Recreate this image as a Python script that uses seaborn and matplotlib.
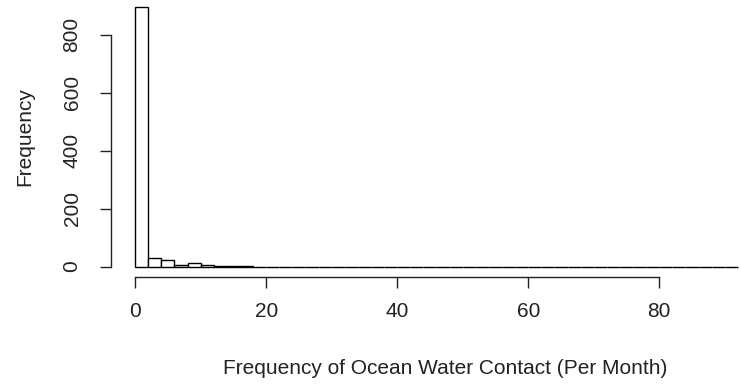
import numpy as np
import pandas as pd
import matplotlib
matplotlib.use("Agg")
import matplotlib.pyplot as plt
import seaborn as sns

# Data (bin width 2, from 0 to 92)
bin_edges = list(range(0, 94, 2))
counts = [894, 28, 22, 7, 13, 7, 3, 3, 3] + [0] * 37
x_ticks = [0, 20, 40, 60, 80]
y_ticks = [0, 200, 400, 600, 800]
x_label = "Frequency of Ocean Water Contact (Per Month)"
y_label = "Frequency"

sns.set_style("white")
plt.rcParams["font.family"] = ["Liberation Sans", "DejaVu Sans"]

W, H = 740, 386
fig = plt.figure(figsize=(W / 100, H / 100), dpi=100)
ax = fig.add_axes([111 / W, (H - 277) / H, 629.5 / W, 280 / H])

mids = [(bin_edges[i] + bin_edges[i + 1]) / 2 for i in range(len(counts))]
df = pd.DataFrame({"x": mids, "w": counts})
sns.histplot(data=df, x="x", weights="w", bins=bin_edges, ax=ax,
             color="white", edgecolor="black", linewidth=1.0, alpha=1.0,
             clip_on=False)

ax.set_xlim(-3.68, 92.4)
ax.set_ylim(-35.8, 929.8)
ax.set_xlabel("")
ax.set_ylabel("")

for s in ["top", "right"]:
    ax.spines[s].set_visible(False)
for s in ["left", "bottom"]:
    ax.spines[s].set_color("#222222")
    ax.spines[s].set_linewidth(1.0)
ax.spines["left"].set_bounds(0, 800)
ax.spines["bottom"].set_bounds(0, 80)

ax.set_xticks(x_ticks)
ax.set_yticks(y_ticks)
ax.tick_params(axis="both", which="major", direction="out", length=8,
               width=1.0, color="#222222", labelsize=15, labelcolor="#222222",
               bottom=True, left=True)
ax.tick_params(axis="x", pad=10)
ax.tick_params(axis="y", pad=20)
for lab in ax.get_yticklabels():
    lab.set_rotation(90)
    lab.set_va("center")
    lab.set_ha("center")

fig.text(445 / W, 1 - 369 / H, x_label, ha="center", va="center",
         fontsize=15, color="#222222")
fig.text(25 / W, 1 - 137 / H, y_label, ha="center", va="center",
         rotation=90, fontsize=15, color="#222222")

fig.savefig("out.png", dpi=100, facecolor="white")
